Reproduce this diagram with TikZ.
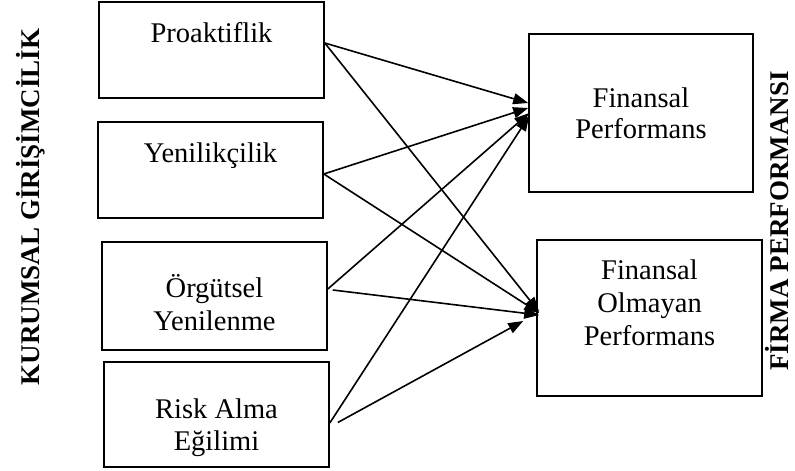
\documentclass[tikz,border=0pt]{standalone}
\usepackage{fontspec}
\setmainfont{Liberation Serif}[BoldFont={Liberation Serif Bold}]
\usetikzlibrary{arrows.meta}
\tikzset{
  box/.style={draw, line width=1.6pt, rectangle, inner sep=0pt, minimum width=225pt},
  txt/.style={font=\fontsize{28.5}{32}\selectfont, inner sep=0pt, anchor=base},
  lab/.style={font=\bfseries\fontsize{27}{30}\selectfont, inner sep=0pt, rotate=90},
  conn/.style={line width=1.6pt, -{Triangle[length=15pt,width=11pt]}}
}
\begin{document}
\begin{tikzpicture}[x=1pt,y=-1pt]
\useasboundingbox (0,0) rectangle (795,471);
% left boxes
\node[box, minimum height=96pt] (p) at (211.5,50) {};
\node[box, minimum height=96pt] (y) at (210.5,170) {};
\node[box, minimum height=108pt] (o) at (214.5,296) {};
\node[box, minimum height=105pt] (r) at (216.5,414.5) {};
% right boxes
\node[box, minimum width=224pt, minimum height=158pt] (fp) at (641,113) {};
\node[box, minimum height=156pt] (fop) at (649.5,318) {};
% texts
\node[txt] (tp) at (211.5,42) {Proaktiflik};
\node[txt] (ty) at (210.5,162) {Yenilikçilik};
\node[txt] (to1) at (214.5,297) {Örgütsel};
\node[txt] (to2) at (214.5,330) {Yenilenme};
\node[txt] (tr1) at (216.5,418) {Risk Alma};
\node[txt] (tr2) at (216.5,450) {Eğilimi};
\node[txt] (tf1) at (641,107) {Finansal};
\node[txt] (tf2) at (641,138) {Performans};
\node[txt] (tn1) at (649.5,279) {Finansal};
\node[txt] (tn2) at (649.5,312) {Olmayan};
\node[txt] (tn3) at (649.5,345) {Performans};
% side labels
\node[lab] (kg) at (31,207) {KURUMSAL GİRİŞİMCİLİK};
\node[lab] (fpl) at (777,221) {FİRMA PERFORMANSI};
% connectors
\draw[conn] ([yshift=7pt]p.east) -- ([yshift=10pt]fp.west);
\draw[conn] ([yshift=7pt]p.east) -- ([xshift=3pt,yshift=6pt]fop.west);
\draw[conn] ([yshift=-4pt]y.east) -- ([yshift=5pt]fp.west);
\draw[conn] ([yshift=-4pt]y.east) -- ([xshift=3pt,yshift=5pt]fop.west);
\draw[conn] ([yshift=7pt]o.east) -- ([xshift=1pt,yshift=0pt]fp.west);
\draw[conn] ([xshift=5pt,yshift=6pt]o.east) -- ([xshift=3pt,yshift=3pt]fop.west);
\draw[conn] ([yshift=-8.5pt]r.east) -- ([xshift=1pt,yshift=-3pt]fp.west);
\draw[conn] ([xshift=8pt,yshift=-8pt]r.east) -- ([xshift=-13pt,yshift=-3pt]fop.west);
\end{tikzpicture}
\end{document}
